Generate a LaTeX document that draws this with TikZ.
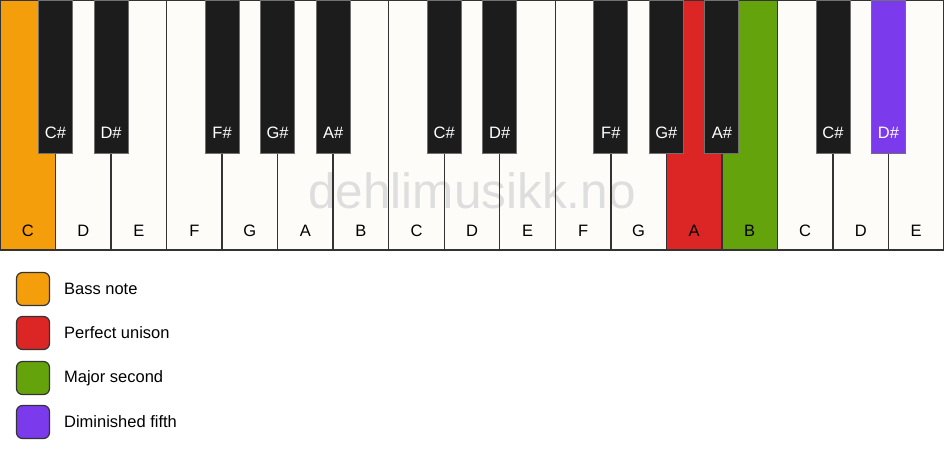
\documentclass[tikz,border=0pt]{standalone}
\usepackage{fontspec}
\setmainfont{Liberation Sans}
\usetikzlibrary{positioning}

\definecolor{bassorange}{HTML}{F59E0B}
\definecolor{unisonred}{HTML}{DC2626}
\definecolor{secondgreen}{HTML}{65A30D}
\definecolor{fifthpurple}{HTML}{7C3AED}
\definecolor{keyivory}{HTML}{FDFCF9}
\definecolor{keyblack}{HTML}{1C1C1C}
\definecolor{keyline}{HTML}{333333}

\tikzset{
  whitekey/.style={draw=keyline,line width=1.4pt},
  blackkey/.style={draw=keyline!70,line width=0.8pt},
  keylabel/.style={font=\fontsize{16.5}{19}\selectfont},
  legendbox/.style={draw=keyline,line width=1.2pt,rounded corners=6pt,minimum size=33pt,inner sep=0pt},
}

\begin{document}
\begin{tikzpicture}[x=1pt,y=-1pt]
\useasboundingbox (0,0) rectangle (944,461);
\def\kw{55.5294}

%-------------------White Keys--------------------%
\foreach \c [count=\i from 0] in {bassorange,keyivory,keyivory,keyivory,keyivory,keyivory,keyivory,keyivory,keyivory,keyivory,keyivory,keyivory,unisonred,secondgreen,keyivory,keyivory,keyivory}
  \fill[\c] (\i*\kw,0) rectangle ({(\i+1)*\kw},250);

\node[text=black!13,font=\fontsize{49.5}{54}\selectfont] (mark) at (472,191) {dehlimusikk.no};

\foreach \n [count=\i from 0] in {C,D,E,F,G,A,B,C,D,E,F,G,A,B,C,D,E}
{
  \draw[whitekey] (\i*\kw,0) rectangle ({(\i+1)*\kw},250);
  \node[keylabel] (w\i) at ({(\i+0.5)*\kw},231) {\n};
}
%----------------------------------------------------%

%-------------------Black Keys--------------------%
\foreach \k/\n/\c in {1/C\#/keyblack,2/D\#/keyblack,4/F\#/keyblack,5/G\#/keyblack,6/A\#/keyblack,8/C\#/keyblack,9/D\#/keyblack,11/F\#/keyblack,12/G\#/keyblack,13/A\#/keyblack,15/C\#/keyblack,16/D\#/fifthpurple}
{
  \filldraw[blackkey,fill=\c] (\k*\kw-17,0) rectangle (\k*\kw+17,153);
  \node[keylabel,text=white] (b\k) at (\k*\kw,133) {\n};
}
%----------------------------------------------------%

%-------------------Legend--------------------%
\foreach \y/\c/\t [count=\j] in {289/bassorange/Bass note,333/unisonred/Perfect unison,378/secondgreen/Major second,422/fifthpurple/Diminished fifth}
{
  \node[legendbox,fill=\c] (sw\j) at (33,\y) {};
  \node[keylabel,right=10.5pt of sw\j] (lg\j) {\t};
}
%----------------------------------------------------%
\end{tikzpicture}
\end{document}
